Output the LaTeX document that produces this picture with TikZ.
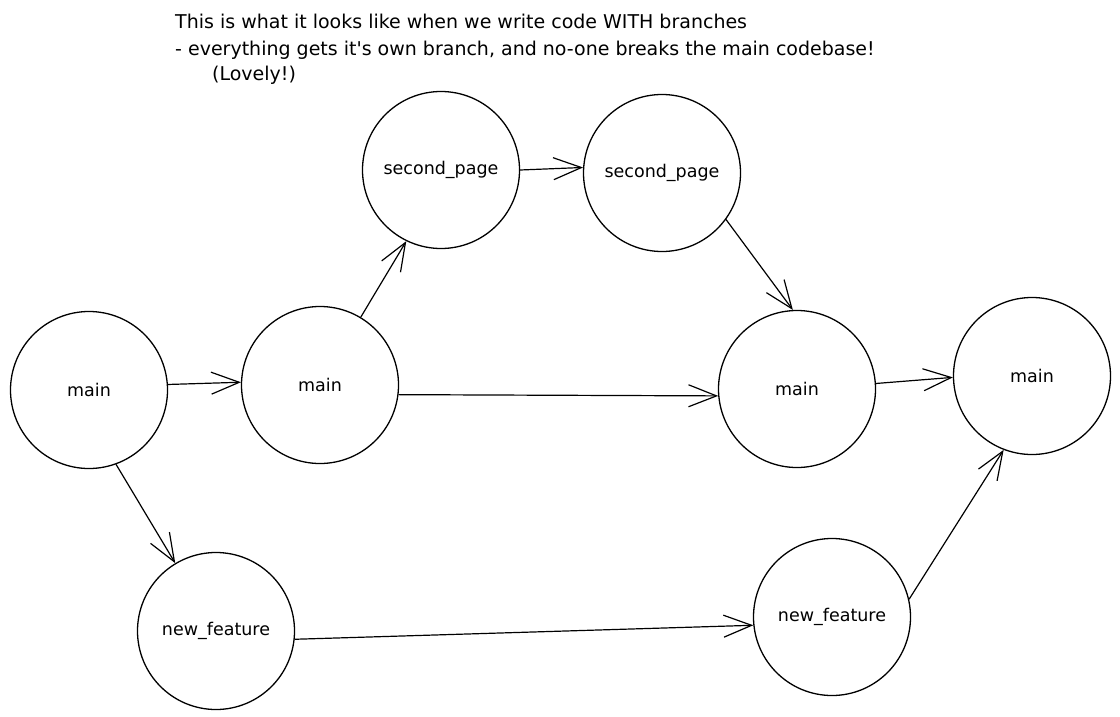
\documentclass[tikz,border=0pt]{standalone}
\usepackage{fontspec}
\setmainfont{DejaVu Sans}
\usetikzlibrary{arrows.meta}
\begin{document}
\begin{tikzpicture}[x=1pt,y=-1pt,
 commit/.style={circle,draw,line width=1.3pt,minimum size=157pt,inner sep=0pt,font=\fontsize{17.5}{20}\selectfont},
 link/.style={line width=1.2pt,-{Straight Barb[length=28pt,width=22pt]}},
 note/.style={anchor=base west,inner sep=0pt,font=\fontsize{19}{22}\selectfont}]
\useasboundingbox[fill=white] (0,0) rectangle (1120,717);
\node[note] (t1) at (175,29) {This is what it looks like when we write code WITH branches};
\node[note] (t2) at (175,56) {- everything gets it\textquotesingle s own branch, and no-one breaks the main codebase!};
\node[note] (t3) at (212,81) {(Lovely!)};
\node[commit] (A) at (89,390) {main};
\node[commit] (B) at (320,385) {main};
\node[commit] (C) at (441,170) {second\_page};
\node[commit] (D) at (662,173) {second\_page};
\node[commit] (E) at (797,389) {main};
\node[commit] (F) at (1032,376) {main};
\node[commit] (G) at (216,631) {new\_feature};
\node[commit] (H) at (832,617) {new\_feature};
\draw[link] (A.4) -- (B.178);
\draw[link] (A.-70) -- (G.121);
\draw[link] (B.59) -- (C.-116);
\draw[link] (B.-7) -- (E.-175);
\draw[link] (C.0) -- (D.176);
\draw[link] (D.-36) -- (E.93);
\draw[link] (E.4) -- (F.-179);
\draw[link] (G.-6) -- (H.-174);
\draw[link] (H.13) -- (F.-111);
\end{tikzpicture}
\end{document}
